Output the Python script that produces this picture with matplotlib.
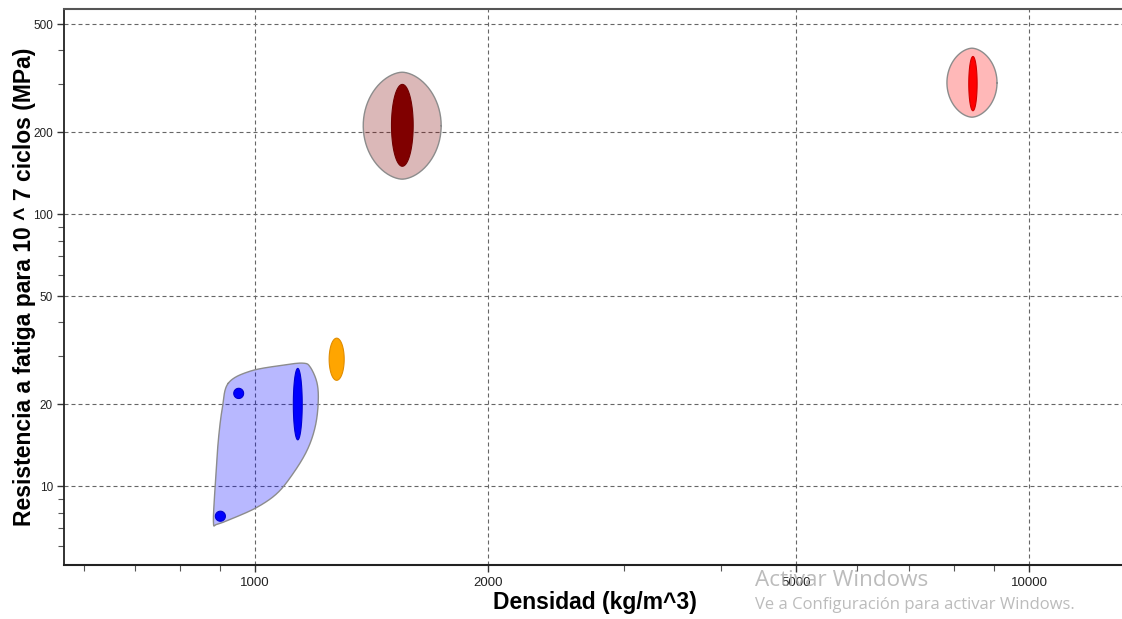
import numpy as np
import matplotlib
matplotlib.use('Agg')
import matplotlib.pyplot as plt
from matplotlib.ticker import FixedLocator, LogLocator, NullFormatter

# rangos de cada material: densidad (kg/m^3) y resistencia a fatiga (MPa)
cfrp_rho = [1500, 1600]
cfrp_sig = [150, 300]
cobre_rho = [8360, 8570]
cobre_sig = [240, 380]
naranja_rho = [1246, 1303]
naranja_sig = [24.5, 35.0]
pol1_rho = [1120, 1150]
pol1_sig = [14.8, 27.1]
pol2_rho = [938, 966]
pol2_sig = [21.0, 22.9]
pol3_rho = [888, 915]
pol3_sig = [7.43, 8.09]

# contornos de las familias
env_comp_rho = [1379, 1739]
env_comp_sig = [134.5, 332.6]
env_met_rho = [7834, 9093]
env_met_sig = [227.3, 407.6]
env_pol_rho = [923, 985, 1087, 1153, 1178, 1202, 1206, 1195, 1167, 1120,
               1068, 1006, 937, 893, 883, 888, 896, 907]
env_pol_sig = [23.91, 26.47, 27.86, 28.33, 27.38, 23.91, 20.19, 16.48, 13.56, 11.16,
               9.43, 8.37, 7.63, 7.25, 7.37, 10.26, 14.76, 19.51]

x_ticks = [1000, 2000, 5000, 10000]
y_ticks = [10, 20, 50, 100, 200, 500]


def elipse(rho, sig, n=160, p=2.0):
    # elipse en espacio log a partir de los rangos min/max
    # (p < 2 afina los extremos superior e inferior)
    lx = np.log10(rho)
    ly = np.log10(sig)
    t = np.linspace(0, 2 * np.pi, n)
    cx, cy = lx.mean(), ly.mean()
    ax_, ay_ = (lx[1] - lx[0]) / 2, (ly[1] - ly[0]) / 2
    c = np.cos(t)
    u = np.sign(c) * np.abs(c)**(2 / p)
    return 10**(cx + ax_ * u), 10**(cy + ay_ * np.sin(t))


def contorno(rho, sig, n=24):
    # spline catmull-rom cerrada en espacio log
    p = np.column_stack([np.log10(rho), np.log10(sig)])
    m = len(p)
    t = np.linspace(0, 1, n, endpoint=False)[:, None]
    seg = []
    for i in range(m):
        p0, p1, p2, p3 = p[i - 1], p[i], p[(i + 1) % m], p[(i + 2) % m]
        seg.append(0.5 * (2 * p1 + (-p0 + p2) * t
                          + (2 * p0 - 5 * p1 + 4 * p2 - p3) * t**2
                          + (-p0 + 3 * p1 - 3 * p2 + p3) * t**3))
    seg = np.vstack(seg)
    return 10**seg[:, 0], 10**seg[:, 1]


def main():
    plt.rcParams['font.family'] = ['Liberation Sans', 'DejaVu Sans']

    fig = plt.figure(figsize=(11.22, 6.19), dpi=100)
    ax = fig.add_axes([64 / 1122, 54 / 619, 1058 / 1122, 556 / 619])
    ax.set_xscale('log')
    ax.set_yscale('log')
    ax.set_xlim(566, 13190)
    ax.set_ylim(5.13, 568)
    ax.set_axisbelow(True)

    # contornos de familia
    envolventes = [(elipse(env_comp_rho, env_comp_sig, p=1.75), '#800000'),
                   (elipse(env_met_rho, env_met_sig, p=1.75), '#ff0000'),
                   (contorno(env_pol_rho, env_pol_sig), '#0000ff')]
    for (x, y), col in envolventes:
        ax.fill(x, y, facecolor=col, alpha=0.28, edgecolor='none', zorder=2)
        ax.plot(np.append(x, x[0]), np.append(y, y[0]), color='#8c8c8c', lw=1.0, zorder=3)

    # materiales
    for rho, sig, col, ec in [(cfrp_rho, cfrp_sig, '#800000', '#700000'),
                              (cobre_rho, cobre_sig, '#ff0000', '#d00000'),
                              (naranja_rho, naranja_sig, '#ffa500', '#e08c00'),
                              (pol1_rho, pol1_sig, '#0000ff', '#0000d0'),
                              (pol2_rho, pol2_sig, '#0000ff', '#0000d0'),
                              (pol3_rho, pol3_sig, '#0000ff', '#0000d0')]:
        x, y = elipse(rho, sig)
        ax.fill(x, y, facecolor=col, edgecolor=ec, lw=0.8, zorder=4)

    ax.xaxis.set_major_locator(FixedLocator(x_ticks))
    ax.yaxis.set_major_locator(FixedLocator(y_ticks))
    ax.set_xticklabels([str(v) for v in x_ticks])
    ax.set_yticklabels([str(v) for v in y_ticks])
    ax.xaxis.set_minor_locator(LogLocator(base=10, subs=np.arange(2, 10)))
    ax.yaxis.set_minor_locator(LogLocator(base=10, subs=np.arange(2, 10)))
    ax.xaxis.set_minor_formatter(NullFormatter())
    ax.yaxis.set_minor_formatter(NullFormatter())

    ax.tick_params(which='major', direction='out', length=5, width=1, color='#333333', labelcolor='#222222')
    ax.tick_params(which='minor', direction='out', length=4, width=0.8, color='#555555')
    ax.tick_params(axis='x', which='major', labelsize=9.5, pad=4)
    ax.tick_params(axis='y', which='major', labelsize=8.5, pad=3)

    ax.grid(True, which='major', color='#666666', lw=0.8, ls=(0, (3.6, 2.7)))

    ax.spines['right'].set_visible(False)
    ax.spines['top'].set_color('#555555')
    ax.spines['top'].set_linewidth(1.5)
    ax.spines['bottom'].set_color('#222222')
    ax.spines['bottom'].set_linewidth(1.5)
    ax.spines['left'].set_color('#222222')
    ax.spines['left'].set_linewidth(1.3)

    fig.text(595 / 1122, 1 - 603 / 619, 'Densidad (kg/m^3)', fontsize=16.5, fontweight='bold',
             ha='center', va='center')
    fig.text(25 / 1122, 1 - 287 / 619, 'Resistencia a fatiga para 10 ^ 7 ciclos (MPa)',
             fontsize=16.5, fontweight='bold', rotation=90, ha='center', va='center')

    fig.text(755 / 1122, 1 - 586 / 619, 'Activar Windows', fontsize=16.2, color='#ababab',
             alpha=0.8, family='Open Sans', va='baseline')
    fig.text(755 / 1122, 1 - 609 / 619, 'Ve a Configuración para activar Windows.', fontsize=12,
             color='#ababab', alpha=0.8, family='Open Sans', va='baseline')

    fig.savefig('out.png', dpi=100)


if __name__ == "__main__":
    main()
